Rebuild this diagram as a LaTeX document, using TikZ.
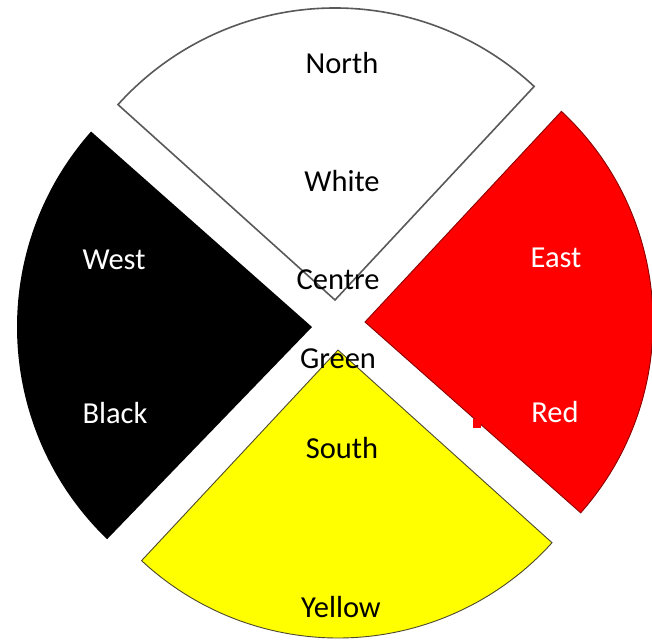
\documentclass[tikz,border=0pt]{standalone}
\usepackage{fontspec}
\setmainfont{Carlito}
\definecolor{wheelred}{RGB}{255,0,0}
\definecolor{wheelyellow}{RGB}{255,255,0}
\begin{document}
\begin{tikzpicture}[x=1pt,y=1pt,
  lbl/.style={anchor=base,inner sep=0pt,font=\fontsize{30.5}{36}\selectfont},
  lblw/.style={lbl,text=white},
  lblb/.style={lbl,text=black}]
\useasboundingbox (0,0) rectangle (652,642);
\fill[white] (0,0) rectangle (652,642);
% North (white)
\filldraw[fill=white,draw=black!65,line width=1.6pt,line join=miter]
  (335,342) -- ++(47:292) arc[start angle=47,end angle=138,radius=292] -- cycle;
% East (red)
\filldraw[fill=wheelred,draw=red!55!black,line width=0.9pt]
  (365,320) -- ++(-41.5:288) arc[start angle=-41.5,end angle=47,radius=288] -- cycle;
% West (black)
\fill[black]
  (312,315) -- ++(138.5:295) arc[start angle=138.5,end angle=226,radius=295] -- cycle;
% South (yellow)
\filldraw[fill=wheelyellow,draw=black!60!olive,line width=0.9pt]
  (338,292) -- ++(227:288) arc[start angle=227,end angle=318,radius=288] -- cycle;
% small red mark
\fill[wheelred] (473,214) rectangle (481,223);
% labels
\node[lblb] (north) at (342,568.5) {North};
\node[lblb] (white) at (342,450.5) {White};
\node[lblb] (centre) at (338,352) {Centre};
\node[lblb] (green) at (338,273) {Green};
\node[lblw] (west) at (114,372.5) {West};
\node[lblw] (black) at (115,218.5) {Black};
\node[lblw] (east) at (556,374.5) {East};
\node[lblw] (red) at (555,219.5) {Red};
\node[lblb] (south) at (342,183.5) {South};
\node[lblb] (yellow) at (341,25) {Yellow};
\end{tikzpicture}
\end{document}
